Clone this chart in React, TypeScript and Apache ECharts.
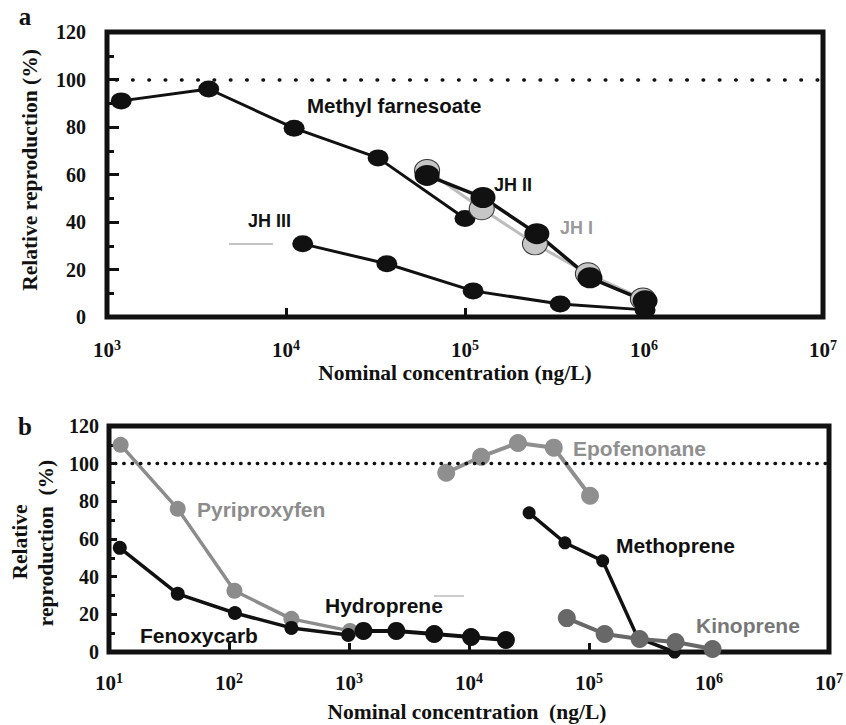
import React, { useEffect, useRef } from "react";
import * as echarts from "echarts";

// ---------- Panel a (ng/L, % relative reproduction) ----------
const mfConc = [1200, 3700, 11100, 32700, 100000];
const mfRepro = [91, 96, 79.5, 67, 41.5];
const jh1Conc = [61400, 124000, 246000, 486000, 986000];
const jh1Repro = [61.7, 45.6, 30.8, 18.2, 7.6];
const jh2Conc = [61400, 126000, 252000, 499000, 1014000];
const jh2Repro = [59.6, 50.3, 35.1, 16.5, 6.8];
const jh3Conc = [12400, 36600, 111000, 340000, 1014000];
const jh3Repro = [30.8, 22.4, 11.0, 5.5, 3.0];

// ---------- Panel b ----------
const pyriConc = [12.5, 37.4, 111, 331, 1020];
const pyriRepro = [110, 76, 32.5, 17.6, 11.2];
const fenoConc = [12.3, 37.4, 112, 331, 985];
const fenoRepro = [55.3, 30.9, 20.7, 12.8, 9.0];
const hydroConc = [1320, 2480, 5130, 10400, 20300];
const hydroRepro = [11.2, 11.2, 9.6, 8.0, 6.4];
const epoConc = [6460, 12600, 25600, 50900, 102000];
const epoRepro = [95.2, 103.7, 111, 108.5, 83];
const methoConc = [31700, 63000, 130000, 255000, 516000];
const methoRepro = [73.9, 58, 48.4, 7.5, 0];
const kinoConc = [65300, 135000, 264000, 526000, 1070000];
const kinoRepro = [18, 9.6, 6.9, 5.3, 1.6];

// ---------- Axes ----------
const xRangeA = [1e3, 1e7];
const xRangeB = [1e1, 1e7];
const yRange = [0, 120];
const yStep = 20;
const controlLevel = 100;

const SERIF = '"Liberation Serif", "Times New Roman", serif';
const SANS = '"Liberation Sans", Arial, sans-serif';
const INK = "#111";
const ELLIPSE = "path://M0,10A10,10,0,1,1,20,10A10,10,0,1,1,0,10Z";

const zip = (xs: number[], ys: number[]) => xs.map((x, i) => [x, ys[i]]);

function line(
  name: string,
  xs: number[],
  ys: number[],
  idx: number,
  color: string,
  width: number,
  symbol: string,
  size: number | number[],
  item: any = {}
) {
  return {
    name,
    type: "line",
    xAxisIndex: idx,
    yAxisIndex: idx,
    data: zip(xs, ys),
    symbol,
    symbolSize: size,
    showSymbol: true,
    lineStyle: { color, width },
    itemStyle: { color, opacity: 1, ...item },
    emphasis: { disabled: true },
  };
}

function xAxis(idx: number, range: number[], margin: number) {
  return {
    type: "log",
    logBase: 10,
    gridIndex: idx,
    min: range[0],
    max: range[1],
    splitNumber: 10,
    axisLine: { show: false },
    splitLine: { show: false },
    axisTick: { show: true, inside: true, length: 9, lineStyle: { color: INK, width: 3 } },
    axisLabel: {
      margin,
      formatter: (v: number) => `{b|10}{s|${Math.round(Math.log10(v))}}`,
      rich: {
        b: { fontSize: 21, fontWeight: "bold", fontFamily: SERIF, color: INK, lineHeight: 22, verticalAlign: "bottom" },
        s: { fontSize: 14, fontWeight: "bold", fontFamily: SERIF, color: INK, lineHeight: 10, verticalAlign: "top" },
      },
    },
  };
}

function yAxis(idx: number, margin: number, major: number, minor: number) {
  return {
    type: "value",
    gridIndex: idx,
    min: yRange[0],
    max: yRange[1],
    interval: yStep,
    axisLine: { show: false },
    splitLine: { show: false },
    axisTick: { show: true, inside: true, length: major, lineStyle: { color: INK, width: 3 } },
    minorTick: { show: true, splitNumber: 2, length: minor, lineStyle: { color: INK, width: 3 } },
    minorSplitLine: { show: false },
    axisLabel: { margin, fontSize: 20, fontWeight: "bold", fontFamily: SERIF, color: INK },
  };
}

function refLine(dash: number[], offset: number, width: number) {
  return {
    silent: true,
    symbol: "none",
    label: { show: false },
    lineStyle: { color: INK, width, type: dash, dashOffset: offset, cap: "round" },
    data: [{ yAxis: controlLevel }],
  };
}

const txt = (text: string, x: number, y: number, font: string, fill: string, align = "left", rotation = 0) => ({
  type: "text",
  x,
  y,
  rotation,
  z: 100,
  style: { text, font, fill, textAlign: align, textVerticalAlign: "middle" },
});

export default function App() {
  const ref = useRef<HTMLDivElement>(null);
  useEffect(() => {
    if (!ref.current) return;
    const chart = echarts.init(ref.current, null, { renderer: "svg" });
    const labelA = `bold 18px ${SANS}`;
    const labelB = `bold 21px ${SANS}`;
    const title = `bold 21.5px ${SERIF}`;

    const mf: any = line("Methyl farnesoate", mfConc, mfRepro, 0, INK, 3, ELLIPSE, [21, 17]);
    mf.markLine = refLine([0.5, 15.8], 7, 3.6);
    const pyri: any = line("Pyriproxyfen", pyriConc, pyriRepro, 1, "#8c8c8c", 3.5, "circle", 16);
    pyri.markLine = refLine([0.5, 7.85], 2.3, 3.4);

    chart.setOption({
      animation: false,
      backgroundColor: "#fff",
      grid: [
        { left: 107, top: 32, width: 716, height: 285, show: true, borderColor: INK, borderWidth: 5, backgroundColor: "transparent" },
        { left: 109, top: 426, width: 723, height: 226, show: true, borderColor: INK, borderWidth: 5, backgroundColor: "transparent" },
      ],
      xAxis: [xAxis(0, xRangeA, 21), xAxis(1, xRangeB, 19)],
      yAxis: [yAxis(0, 21, 12, 7), yAxis(1, 10, 8, 6)],
      series: [
        mf,
        line("JH I", jh1Conc, jh1Repro, 0, "#bdbdbd", 3, ELLIPSE, [25, 22], { color: "#c6c6c6", borderColor: "#333", borderWidth: 1 }),
        line("JH II", jh2Conc, jh2Repro, 0, INK, 3.5, ELLIPSE, [25, 21]),
        line("JH III", jh3Conc, jh3Repro, 0, INK, 3, ELLIPSE, [21, 17]),
        pyri,
        line("Fenoxycarb", fenoConc, fenoRepro, 1, INK, 3.5, "circle", 14),
        line("Hydroprene", hydroConc, hydroRepro, 1, INK, 4, "circle", 18),
        line("Epofenonane", epoConc, epoRepro, 1, "#8f8f8f", 4, "circle", 18),
        line("Methoprene", methoConc, methoRepro, 1, INK, 3.5, "circle", 13),
        line("Kinoprene", kinoConc, kinoRepro, 1, "#686868", 4, "circle", 18),
      ],
      graphic: [
        txt("a", 25, 16.5, `bold 25px ${SERIF}`, INK, "center"),
        txt("b", 25, 426.5, `bold 25px ${SERIF}`, INK, "center"),
        txt("Relative reproduction (%)", 30, 170, title, INK, "center", Math.PI / 2),
        txt("Nominal concentration (ng/L)", 455, 373, title, INK, "center"),
        txt("Relative", 19.5, 542, title, INK, "center", Math.PI / 2),
        txt("reproduction  (%)", 45.5, 543, title, INK, "center", Math.PI / 2),
        txt("Nominal concentration  (ng/L)", 467, 712, title, INK, "center"),
        txt("Methyl farnesoate", 307, 105, `bold 20.5px ${SANS}`, INK),
        txt("JH II", 494, 185, labelA, INK),
        txt("JH I", 560, 228, labelA, "#9a9a9a"),
        txt("JH III", 248, 221, labelA, INK),
        { type: "line", z: 100, shape: { x1: 229, y1: 244, x2: 273, y2: 244 }, style: { stroke: "#c4c4c4", lineWidth: 2 } },
        txt("Pyriproxyfen", 197, 509, labelB, "#8c8c8c"),
        txt("Fenoxycarb", 140, 635, labelB, INK),
        txt("Hydroprene", 325, 605, labelB, INK),
        { type: "line", z: 100, shape: { x1: 434, y1: 596, x2: 464, y2: 596 }, style: { stroke: "#cccccc", lineWidth: 2 } },
        txt("Epofenonane", 573, 448, labelB, "#8f8f8f"),
        txt("Methoprene", 616, 545, labelB, INK),
        txt("Kinoprene", 696, 625, labelB, "#777777"),
      ],
    });
    return () => chart.dispose();
  }, []);
  return (
    <div
      ref={ref}
      style={{ position: "fixed", left: 0, top: 0, width: 846, height: 725, background: "#fff" }}
    />
  );
}
